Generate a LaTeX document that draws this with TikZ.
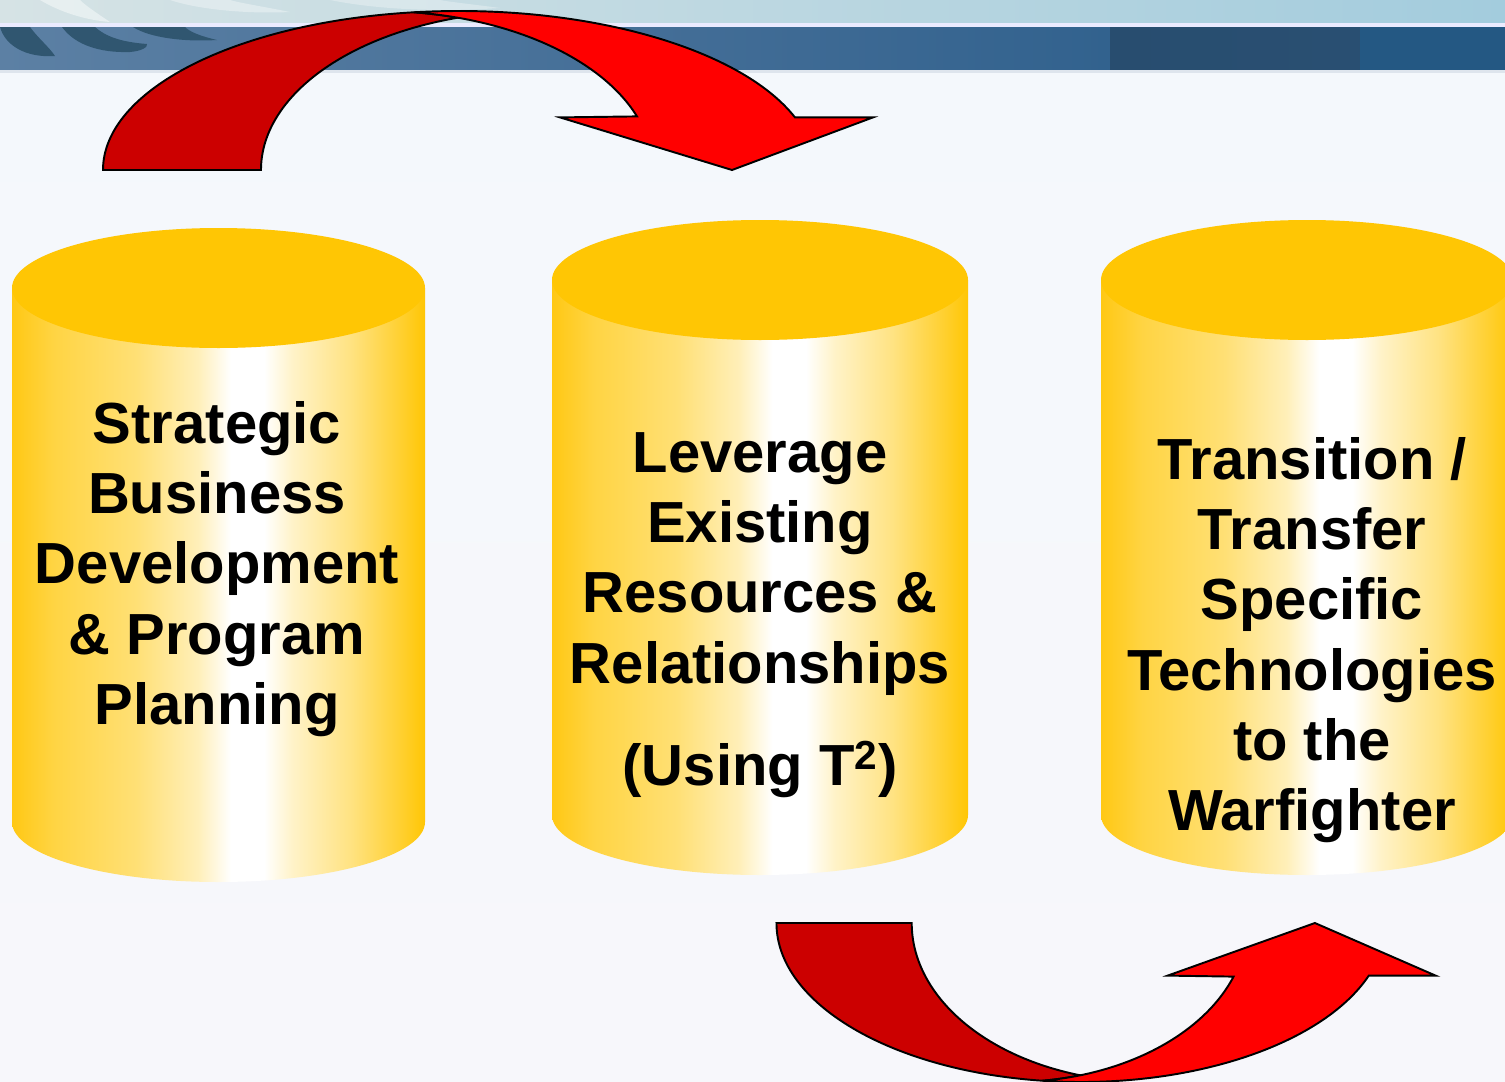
\documentclass[tikz,border=0pt]{standalone}
\usepackage{fontspec}
\setmainfont{Liberation Sans}
\usepackage{tikz}
\usetikzlibrary{calc}

\definecolor{bgtop}{RGB}{244,248,252}
\definecolor{bgbot}{RGB}{247,247,251}
\definecolor{stripL}{RGB}{214,227,229}
\definecolor{stripR}{RGB}{163,204,221}
\definecolor{bandA}{RGB}{92,128,164}
\definecolor{bandB}{RGB}{62,106,148}
\definecolor{bandC}{RGB}{50,98,142}
\definecolor{bandD}{RGB}{40,77,111}
\definecolor{bandE}{RGB}{36,88,131}
\definecolor{swirl}{RGB}{48,86,112}
\definecolor{cylgold}{RGB}{255,198,4}
\definecolor{cylL}{RGB}{255,200,20}
\definecolor{arrowdark}{RGB}{204,0,0}
\definecolor{arrowred}{RGB}{255,0,0}

% body of a cylinder: gold at the sides, white a bit right of the middle
\pgfdeclarehorizontalshading{cylbody}{100bp}{color(0bp)=(cylL); color(25bp)=(cylL);
  color(30bp)=(cylgold!75!white); color(40bp)=(cylgold!55!white);
  color(47.5bp)=(cylgold!28!white); color(51.5bp)=(white); color(55.5bp)=(white);
  color(59bp)=(cylgold!22!white); color(66bp)=(cylgold!50!white);
  color(72.5bp)=(cylgold!85!white); color(75bp)=(cylgold); color(100bp)=(cylgold)}

\tikzset{
  backred/.style={fill=arrowdark, draw=black, line width=1.1pt, line join=miter},
  frontred/.style={fill=arrowred, draw=black, line width=1.1pt, line join=miter},
  cyltext/.style={align=center, inner sep=0pt, font=\fontsize{33}{40}\selectfont\bfseries},
  pics/bendarrow/.style={code={
    % back part of the ribbon
    \path[backred] (103,170) arc[start angle=180, end angle=262.7, x radius=356, y radius=159]
      arc[start angle=277.3, end angle=286.7, x radius=274, y radius=159]
      arc[start angle=253.3, end angle=180, x radius=276, y radius=159] -- cycle;
    % front part with the head
    \path[frontred] (413.8,12.3) arc[start angle=262.7, end angle=340.7, x radius=356, y radius=159]
      -- (873,117.4) -- (732,170) -- (560,117.4) -- (637,116.4)
      arc[start angle=340.3, end angle=277.3, x radius=274, y radius=159] -- cycle;
  }}
}

\begin{document}
\begin{tikzpicture}[x=0.02cm, y=-0.02cm]

\useasboundingbox (0,0) rectangle (1505,1082);
\clip (0,0) rectangle (1505,1082);

% Drawing background
\shade[top color=bgtop, bottom color=bgbot] (0,0) rectangle (1505,1082);

% Drawing banner
\shade[left color=stripL, right color=stripR] (0,0) rectangle (1505,23);
\fill[white, opacity=0.45] (40,0) .. controls (60,12) and (85,20) .. (110,22) .. controls (95,12) and (85,5) .. (80,0) -- cycle;
\fill[white, opacity=0.35] (170,0) .. controls (200,10) and (250,14) .. (290,12) .. controls (260,6) and (240,3) .. (230,0) -- cycle;
\fill[white, opacity=0.3] (330,0) .. controls (380,10) and (440,12) .. (500,8) .. controls (470,4) and (450,2) .. (440,0) -- cycle;
\fill[white!92!blue] (0,23) rectangle (1505,27);
\shade[left color=bandA, right color=bandB] (0,27) rectangle (800,71);
\shade[left color=bandB, right color=bandC] (800,27) rectangle (1110,71);
\shade[left color=bandD, right color=bandD!90!bandC] (1110,27) rectangle (1360,71);
\fill[bandE] (1360,27) rectangle (1505,71);
\fill[swirl] (0,27) .. controls (5,45) and (25,58) .. (55,56) .. controls (50,48) and (38,38) .. (30,27) -- cycle;
\fill[swirl] (62,27) .. controls (75,45) and (100,53) .. (130,52) .. controls (142,51) and (148,47) .. (147,44) .. controls (120,42) and (105,36) .. (95,27) -- cycle;
\fill[swirl] (133,27) .. controls (150,38) and (185,42) .. (217,40) .. controls (200,36) and (190,32) .. (185,27) -- cycle;
\fill[white!80!bandA] (0,70) rectangle (1505,73);

% Drawing upper arrow
\pic (toparrow) {bendarrow};

% Drawing cylinders
\shade[shading=cylbody] (12,288) -- (12,822) arc[start angle=180, end angle=0, x radius=206.5, y radius=60] -- (425,288) -- cycle;
\fill[cylgold] (218.5,288) ellipse[x radius=206.5, y radius=60];

\shade[shading=cylbody] (552,280) -- (552,815) arc[start angle=180, end angle=0, x radius=208, y radius=60] -- (968,280) -- cycle;
\fill[cylgold] (760,280) ellipse[x radius=208, y radius=60];

\shade[shading=cylbody] (1101,280) -- (1101,815) arc[start angle=180, end angle=0, x radius=206, y radius=60] -- (1513,280) -- cycle;
\fill[cylgold] (1307,280) ellipse[x radius=206, y radius=60];

% Labels
\node[cyltext] (strategy) at (217,569) {Strategic\\Business\\Development\\\& Program\\Planning};
\node[cyltext] (leverage) at (760,615) {Leverage\\Existing\\Resources \&\\Relationships\\[0.64cm](Using T\textsuperscript{2})};
\node[cyltext] (transition) at (1312,640) {Transition /\\Transfer\\Specific\\Technologies\\to the\\Warfighter};

% Drawing lower arrow (mirrored and narrower)
\begin{scope}[shift={(688.3,1093)}, xscale=0.856, yscale=-1]
\pic[transform shape] (lowarrow) {bendarrow};
\end{scope}

\end{tikzpicture}
\end{document}
